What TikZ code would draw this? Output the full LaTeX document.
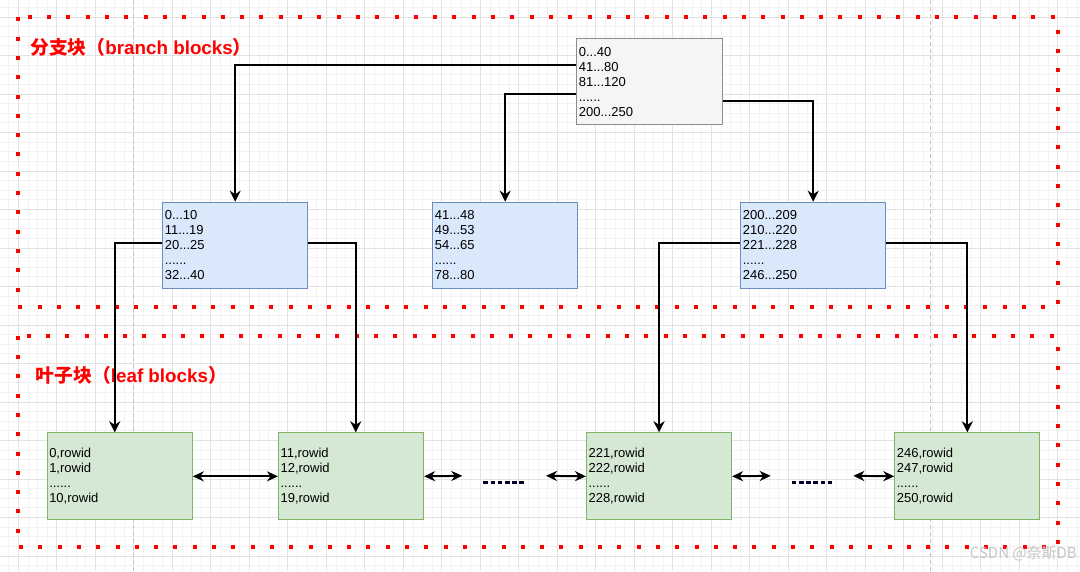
\documentclass[tikz,border=0pt]{standalone}
\usepackage{fontspec}
\setmainfont{Liberation Sans}
\newfontfamily\cjk{Noto Sans CJK SC}
\usetikzlibrary{arrows.meta,calc}
\definecolor{gridminor}{HTML}{F2F2F2}
\definecolor{gridmajor}{HTML}{E2E2E2}
\definecolor{topfill}{HTML}{F5F5F5}
\definecolor{topline}{HTML}{8C8C8C}
\definecolor{bluefill}{HTML}{DAE8FC}
\definecolor{blueline}{HTML}{6C8EBF}
\definecolor{greenfill}{HTML}{D5E8D4}
\definecolor{greenline}{HTML}{82B366}
\definecolor{redline}{HTML}{FF0000}
\tikzset{
  minorline/.style={gridminor, line width=0.8pt},
  majorline/.style={gridmajor, line width=0.9pt},
  pageline/.style={gray!45, line width=0.9pt, dash pattern=on 4pt off 3pt},
  boxbase/.style={rectangle, anchor=north west, inner xsep=2pt, inner ysep=0pt,
    align=left, font=\fontsize{13}{15}\selectfont, line width=1.1pt},
  topbox/.style={boxbase, fill=topfill, draw=topline, minimum width=145.4pt,
    minimum height=86pt, text width=141.4pt},
  branchbox/.style={boxbase, fill=bluefill, draw=blueline, minimum width=144.7pt,
    minimum height=86.3pt, text width=140.7pt},
  leafbox/.style={boxbase, fill=greenfill, draw=greenline, minimum width=145pt,
    minimum height=87pt, text width=141pt},
  conn/.style={line width=2pt, -{Stealth[length=11pt,width=11pt,inset=3.5pt]}},
  dconn/.style={line width=2pt, {Stealth[length=11pt,width=10pt,inset=3.5pt]}-{Stealth[length=11pt,width=10pt,inset=3.5pt]}},
  region/.style={redline, line width=4pt, dash pattern=on 4pt off 15.3pt},
  regionlabel/.style={anchor=west, inner sep=0pt, text=redline, font=\bfseries\fontsize{18.8}{21}\selectfont},
  ellipsisline/.style={line width=3pt, black!85!blue, dash pattern=on 4.6pt off 2.6pt},
  watermark/.style={anchor=east, inner sep=0pt, text=gray!45, font=\cjk\fontsize{15}{17}\selectfont}
}
\begin{document}
\begin{tikzpicture}[x=1pt,y=-1pt]
\useasboundingbox (0,0) rectangle (1080,571);
\fill[white] (0,0) rectangle (1080,571);
% grid
\foreach \i in {-2,...,110} {
  \pgfmathsetmacro\gx{18.3+9.625*\i}
  \draw[minorline] (\gx,0) -- (\gx,571);
}
\foreach \i in {-2,...,57} {
  \pgfmathsetmacro\gy{17+9.625*\i}
  \draw[minorline] (0,\gy) -- (1080,\gy);
}
\foreach \i in {0,...,27} {
  \pgfmathsetmacro\gx{18.3+38.5*\i}
  \draw[majorline] (\gx,0) -- (\gx,571);
}
\foreach \i in {0,...,14} {
  \pgfmathsetmacro\gy{17+38.5*\i}
  \draw[majorline] (0,\gy) -- (1080,\gy);
}
\draw[pageline] (133.8,0) -- (133.8,571);
\draw[pageline] (930,0) -- (930,571);

% regions
\draw[region] (18.3,17.3) rectangle (1057.7,306.7);
\draw[region] (18.3,335.7) rectangle (1057.7,547.3);
\node[regionlabel] (lblbranch) at (30,47) {{\cjk\bfseries 分支块（}branch blocks{\cjk\bfseries ）}};
\node[regionlabel] (lblleaf) at (35.5,375) {{\cjk\bfseries 叶子块（}leaf blocks{\cjk\bfseries ）}};

% nodes
\node[topbox] (top) at (576.3,38.3) {0...40\\41...80\\81...120\\......\\200...250};
\node[branchbox] (b1) at (162.3,201.7) {0...10\\11...19\\20...25\\......\\32...40};
\node[branchbox] (b2) at (432.3,201.7) {41...48\\49...53\\54...65\\......\\78...80};
\node[branchbox] (b3) at (740.3,201.7) {200...209\\210...220\\221...228\\......\\246...250};
\node[leafbox] (l1) at (46.7,432.3) {0,rowid\\1,rowid\\......\\10,rowid};
\node[leafbox] (l2) at (278,432.3) {11,rowid\\12,rowid\\......\\19,rowid};
\node[leafbox] (l3) at (586,432.3) {221,rowid\\222,rowid\\......\\228,rowid};
\node[leafbox] (l4) at (894.3,432.3) {246,rowid\\247,rowid\\......\\250,rowid};

% connectors top -> branch
\draw[conn] ($(top.north west)+(0,26.7)$) -| (b1.north);
\draw[conn] ($(top.north west)+(0,56)$) -| (b2.north);
\draw[conn] ($(top.north east)+(0,62.7)$) -| (b3.north);
% branch -> leaf
\draw[conn] ($(b1.north west)+(0,41.6)$) -| ([xshift=-5pt]l1.north);
\draw[conn] ($(b1.north east)+(0,41.6)$) -| ([xshift=4.7pt]l2.north);
\draw[conn] ($(b3.north west)+(0,41.6)$) -| (l3.north);
\draw[conn] ($(b3.north east)+(0,41.6)$) -| (l4.north);

% leaf links
\coordinate (c1) at (462.3,475.8);
\coordinate (c2) at (546,475.8);
\coordinate (c3) at (770.7,475.8);
\coordinate (c4) at (853.3,475.8);
\draw[dconn] (l1.east) -- (l2.west);
\draw[dconn] (l2.east) -- (c1);
\draw[dconn] (c2) -- (l3.west);
\draw[dconn] (l3.east) -- (c3);
\draw[dconn] (c4) -- (l4.west);
\coordinate (e1a) at (483.3,482.5);
\coordinate (e1b) at (526,482.5);
\coordinate (e2a) at (791.7,482.5);
\coordinate (e2b) at (834,482.5);
\draw[ellipsisline] (e1a) -- (e1b);
\draw[ellipsisline] (e2a) -- (e2b);

\node[watermark] (wm) at (1077,553) {CSDN @奈斯DB};
\end{tikzpicture}
\end{document}
